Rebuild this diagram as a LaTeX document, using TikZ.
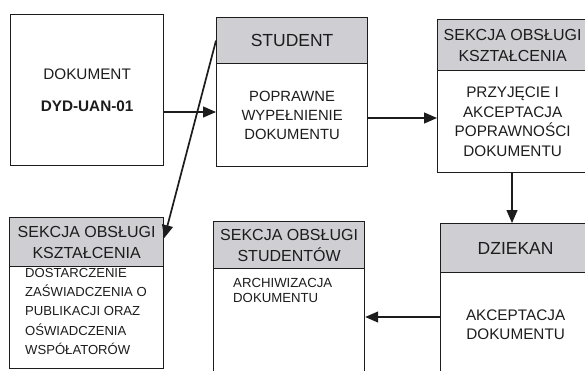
\documentclass[tikz,border=0pt]{standalone}
\usepackage{fontspec}
\setmainfont{Liberation Sans}
\usetikzlibrary{arrows.meta}
\definecolor{hdrgray}{RGB}{206,206,211}
\definecolor{inkc}{RGB}{28,28,28}
\begin{document}
\begin{tikzpicture}[x=1pt,y=-1pt,
  box/.style={draw=inkc, line width=1.2pt, anchor=north west, inner sep=0pt, align=center, text=inkc},
  hdr/.style={box, fill=hdrgray},
  hfont/.style={font=\fontsize{16}{21}\selectfont},
  bigfont/.style={font=\fontsize{17.5}{21}\selectfont},
  bfont/.style={font=\fontsize{15.3}{19.5}\selectfont},
  lbl/.style={anchor=north west, inner sep=0pt, align=left, text=inkc},
  arr/.style={line width=1.3pt, draw=inkc, -{Triangle[length=13pt,width=11pt]}}
]
\useasboundingbox (0,0) rectangle (585,370);
\clip (0,0) rectangle (585,370);

% document box
\node[box, bfont, minimum width=153pt, minimum height=151pt] (doc) at (10,14)
  {DOKUMENT\\[12pt]\textbf{DYD-UAN-01}};

% student
\node[hdr, bigfont, minimum width=151pt, minimum height=46pt] (sth) at (216,17) {STUDENT};
\node[box, font=\fontsize{14.8}{19}\selectfont, minimum width=151pt, minimum height=103pt] (stb) at (216,63)
  {POPRAWNE\\WYPEŁNIENIE\\DOKUMENTU};

% sekcja obslugi ksztalcenia (top right)
\node[hdr, hfont, minimum width=150pt, minimum height=51pt] (soh) at (437,19)
  {SEKCJA OBSŁUGI\\KSZTAŁCENIA};
\node[box, bfont, minimum width=150pt, minimum height=102pt] (sob) at (437,70)
  {PRZYJĘCIE I\\AKCEPTACJA\\POPRAWNOŚCI\\DOKUMENTU};

% dziekan
\node[hdr, bigfont, minimum width=150pt, minimum height=49pt] (dzh) at (440,223) {DZIEKAN};
\node[box, bfont, minimum width=150pt, minimum height=104pt] (dzb) at (440,272)
  {AKCEPTACJA\\DOKUMENTU};

% sekcja obslugi studentow
\node[hdr, hfont, minimum width=151pt, minimum height=47pt] (ssh) at (213,221)
  {SEKCJA OBSŁUGI\\STUDENTÓW};
\node[box, minimum width=151pt, minimum height=110pt] (ssb) at (213,268) {};
\node[lbl, font=\fontsize{13.2}{15.5}\selectfont] (sst) at (233,278)
  {ARCHIWIZACJA\\DOKUMENTU};

% sekcja obslugi ksztalcenia (bottom left)
\node[hdr, hfont, minimum width=154pt, minimum height=49pt] (blh) at (9,217)
  {SEKCJA OBSŁUGI\\KSZTAŁCENIA};
\node[box, minimum width=154pt, minimum height=102pt] (blb) at (9,266) {};
\node[lbl, font=\fontsize{13.1}{19.3}\selectfont] (blt) at (25,268)
  {DOSTARCZENIE\\ZAŚWIADCZENIA O\\PUBLIKACJI ORAZ\\OŚWIADCZENIA\\WSPÓŁATORÓW};

% connectors
\draw[arr] (doc.east |- 0,112) -- (stb.west |- 0,112);
\draw[arr] (stb.east |- 0,118) -- (sob.west |- 0,118);
\draw[arr] (sob.south -| 512,0) -- (dzh.north -| 512,0);
\draw[arr] (dzb.west |- 0,317) -- (ssb.east |- 0,317);
\draw[arr, line width=1.7pt] (sth.west) -- ([yshift=4pt]blh.east);
\end{tikzpicture}
\end{document}
